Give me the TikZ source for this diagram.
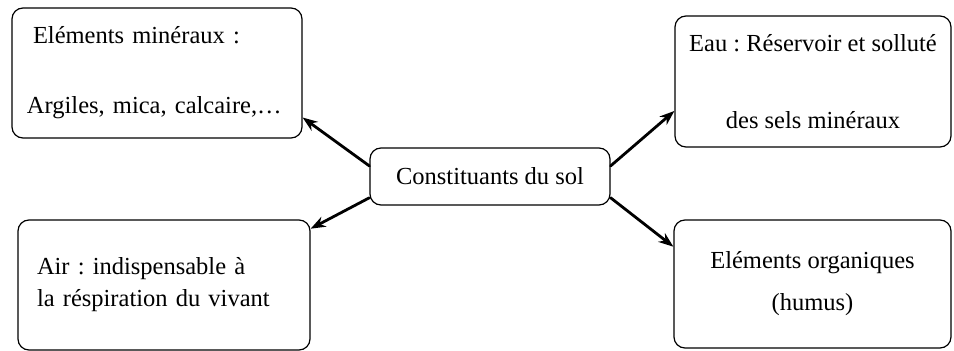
\documentclass[tikz,border=0pt]{standalone}
\usepackage{fontspec}
\setmainfont{Liberation Serif}
\usetikzlibrary{arrows.meta}
\frenchspacing
\begin{document}
\begin{tikzpicture}[x=1pt,y=1pt,>={Stealth[length=15pt,width=11pt]},line join=round,line cap=round,
	font=\fontsize{24.5}{29}\selectfont,
	boite/.style={draw,line width=1.2pt,rounded corners=11pt,inner ysep=0pt},
	fleche/.style={->,line width=2.8pt}]
	\useasboundingbox (0,0) rectangle (954,351);
	\node [boite, minimum width=240, minimum height=57] (sol) at (490,174.5) {Constituants du sol};
	\node [boite, minimum height=130, inner xsep=15pt, text width=260pt, align=left] (mineraux) at (157,278) {\hspace{6pt}Eléments minéraux :\\[41pt]Argiles, mica, calcaire,\dots};
	\node [boite, minimum width=276, minimum height=131, align=center] (eau) at (813,269.5) {Eau : Réservoir et solluté\\[48pt]des sels minéraux};
	\node [boite, minimum height=130, inner xsep=19pt, text width=254pt, align=left] (air) at (164,66) {Air : indispensable à\\[3pt]la réspiration du vivant};
	\node [boite, minimum width=277, minimum height=128, align=center] (organiques) at (812.5,67) {Eléments organiques\\[13pt](humus)};
	\draw [fleche] (sol.175) -- (mineraux.343);
	\draw [fleche] (sol.190) -- (air.21);
	\draw [fleche] (sol.5) -- (eau.192);
	\draw [fleche] (sol.350) -- (organiques.165);
\end{tikzpicture}
\end{document}
